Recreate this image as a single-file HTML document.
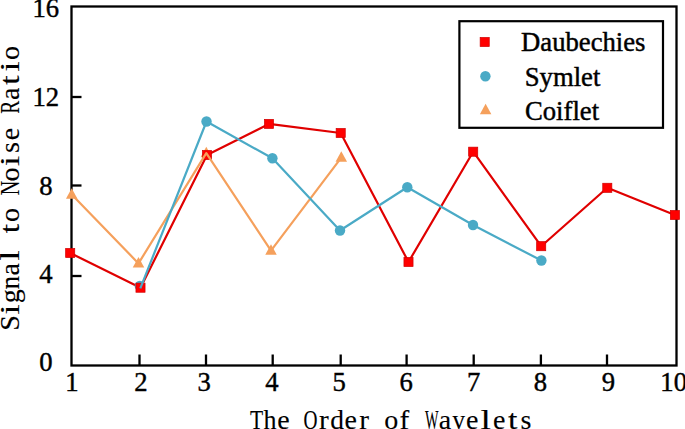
<!DOCTYPE html>
<html><head><meta charset="utf-8"><title>Chart</title>
<style>html,body{margin:0;padding:0;background:#fff;}body{width:685px;height:429px;overflow:hidden;position:relative;font-family:"Liberation Serif",serif;}</style>
</head><body>
<svg width="685" height="429" viewBox="0 0 685 429" style="position:absolute;left:0;top:0">
<rect width="685" height="429" fill="#fff"/>
<rect x="71.5" y="6.5" width="605.0" height="359.0" fill="none" stroke="#000" stroke-width="2.3"/>
<line x1="71.5" y1="276" x2="81.5" y2="276" stroke="#000" stroke-width="2.3"/>
<line x1="71.5" y1="185.5" x2="81.5" y2="185.5" stroke="#000" stroke-width="2.3"/>
<line x1="71.5" y1="97" x2="81.5" y2="97" stroke="#000" stroke-width="2.3"/>
<line x1="139.5" y1="365.5" x2="139.5" y2="354.5" stroke="#000" stroke-width="2.3"/>
<line x1="206" y1="365.5" x2="206" y2="354.5" stroke="#000" stroke-width="2.3"/>
<line x1="272.7" y1="365.5" x2="272.7" y2="354.5" stroke="#000" stroke-width="2.3"/>
<line x1="340.7" y1="365.5" x2="340.7" y2="354.5" stroke="#000" stroke-width="2.3"/>
<line x1="406.6" y1="365.5" x2="406.6" y2="354.5" stroke="#000" stroke-width="2.3"/>
<line x1="473.7" y1="365.5" x2="473.7" y2="354.5" stroke="#000" stroke-width="2.3"/>
<line x1="540.9" y1="365.5" x2="540.9" y2="354.5" stroke="#000" stroke-width="2.3"/>
<line x1="607" y1="365.5" x2="607" y2="354.5" stroke="#000" stroke-width="2.3"/>
<text x="45.8" y="17.4" font-family="Liberation Serif" font-size="26.67" stroke="#000" stroke-width="0.42" text-anchor="middle">16</text>
<text x="45.8" y="106.3" font-family="Liberation Serif" font-size="26.67" stroke="#000" stroke-width="0.42" text-anchor="middle">12</text>
<text x="45.8" y="194.8" font-family="Liberation Serif" font-size="26.67" stroke="#000" stroke-width="0.42" text-anchor="middle">8</text>
<text x="45.8" y="282.8" font-family="Liberation Serif" font-size="26.67" stroke="#000" stroke-width="0.42" text-anchor="middle">4</text>
<text x="45.8" y="371.2" font-family="Liberation Serif" font-size="26.67" stroke="#000" stroke-width="0.42" text-anchor="middle">0</text>
<text x="71.9" y="391.3" font-family="Liberation Serif" font-size="26.67" stroke="#000" stroke-width="0.42" text-anchor="middle">1</text>
<text x="141" y="391.3" font-family="Liberation Serif" font-size="26.67" stroke="#000" stroke-width="0.42" text-anchor="middle">2</text>
<text x="204.2" y="391.3" font-family="Liberation Serif" font-size="26.67" stroke="#000" stroke-width="0.42" text-anchor="middle">3</text>
<text x="272" y="391.3" font-family="Liberation Serif" font-size="26.67" stroke="#000" stroke-width="0.42" text-anchor="middle">4</text>
<text x="339.1" y="391.3" font-family="Liberation Serif" font-size="26.67" stroke="#000" stroke-width="0.42" text-anchor="middle">5</text>
<text x="406.2" y="391.3" font-family="Liberation Serif" font-size="26.67" stroke="#000" stroke-width="0.42" text-anchor="middle">6</text>
<text x="473.7" y="391.3" font-family="Liberation Serif" font-size="26.67" stroke="#000" stroke-width="0.42" text-anchor="middle">7</text>
<text x="540.5" y="391.3" font-family="Liberation Serif" font-size="26.67" stroke="#000" stroke-width="0.42" text-anchor="middle">8</text>
<text x="608.3" y="391.3" font-family="Liberation Serif" font-size="26.67" stroke="#000" stroke-width="0.42" text-anchor="middle">9</text>
<text x="660.3" y="391.3" font-family="Liberation Serif" font-size="26.67" stroke="#000" stroke-width="0.42">10</text>
<g font-family="Liberation Serif" font-size="28" stroke="#000" stroke-width="0.12">
<text transform="translate(249.95,429.0) scale(0.769,1)" x="0" y="0">T</text>
<text transform="translate(263.57,429.0) scale(0.928,1)" x="0" y="0">h</text>
<text x="277.22" y="429.0">e</text>
<text transform="translate(303.46,429.0) scale(0.692,1)" x="0" y="0">O</text>
<text transform="translate(318.91,429.0) scale(1.045,1)" x="0" y="0">r</text>
<text transform="translate(330.23,429.0) scale(0.981,1)" x="0" y="0">d</text>
<text x="344.62" y="429.0">e</text>
<text transform="translate(359.35,429.0) scale(1.045,1)" x="0" y="0">r</text>
<text x="384.34" y="429.0">o</text>
<text transform="translate(399.47,429.0) scale(1.051,1)" x="0" y="0">f</text>
<text transform="translate(425.03,429.0) scale(0.512,1)" x="0" y="0">W</text>
<text x="438.75" y="429.0">a</text>
<text transform="translate(452.54,429.0) scale(0.886,1)" x="0" y="0">v</text>
<text x="465.94" y="429.0">e</text>
<text transform="translate(480.50,429.0) scale(1.336,1)" x="0" y="0">l</text>
<text x="492.90" y="429.0">e</text>
<text transform="translate(507.88,429.0) scale(1.212,1)" x="0" y="0">t</text>
<text x="520.62" y="429.0">s</text>
</g>
<g font-family="Liberation Serif" font-size="28" stroke="#000" stroke-width="0.12" transform="translate(18.8,329.7) rotate(-90)">
<text x="-1.10" y="0">S</text>
<text transform="translate(15.01,0) scale(1.338,1)" x="0" y="0">i</text>
<text x="26.42" y="0">g</text>
<text transform="translate(40.42,0) scale(0.960,1)" x="0" y="0">n</text>
<text x="54.24" y="0">a</text>
<text transform="translate(69.04,0) scale(1.338,1)" x="0" y="0">l</text>
<text transform="translate(96.46,0) scale(1.214,1)" x="0" y="0">t</text>
<text x="107.75" y="0">o</text>
<text transform="translate(134.42,0) scale(0.719,1)" x="0" y="0">N</text>
<text x="148.25" y="0">o</text>
<text transform="translate(163.51,0) scale(1.338,1)" x="0" y="0">i</text>
<text x="176.73" y="0">s</text>
<text x="189.47" y="0">e</text>
<text transform="translate(215.98,0) scale(0.697,1)" x="0" y="0">R</text>
<text x="229.74" y="0">a</text>
<text transform="translate(244.96,0) scale(1.214,1)" x="0" y="0">t</text>
<text transform="translate(258.01,0) scale(1.338,1)" x="0" y="0">i</text>
<text x="269.75" y="0">o</text>
</g>
<polyline points="70.2,253 140.5,287.7 207,155 269,123.9 340.7,133 408.5,262 473.2,151.7 541.2,246.2 607.3,187.8 674.9,215" fill="none" stroke="#e00000" stroke-width="2.2" stroke-linejoin="round"/>
<polygon points="65.95,198.65 77.45,198.65 71.70,188.15" fill="#f5a05c"/>
<polygon points="132.75,267.45 144.25,267.45 138.50,256.95" fill="#f5a05c"/>
<polygon points="200.55,157.25 212.05,157.25 206.30,146.75" fill="#f5a05c"/>
<polygon points="265.25,254.65 276.75,254.65 271.00,244.15" fill="#f5a05c"/>
<polygon points="335.55,161.65 347.05,161.65 341.30,151.15" fill="#f5a05c"/>
<circle cx="139.8" cy="285.9" r="5.2" fill="#4aaac6"/>
<circle cx="206.5" cy="121.5" r="5.2" fill="#4aaac6"/>
<circle cx="272.4" cy="158.3" r="5.2" fill="#4aaac6"/>
<circle cx="340" cy="230.5" r="5.2" fill="#4aaac6"/>
<circle cx="407.3" cy="187.2" r="5.2" fill="#4aaac6"/>
<circle cx="473" cy="225" r="5.2" fill="#4aaac6"/>
<circle cx="541.4" cy="260.5" r="5.2" fill="#4aaac6"/>
<rect x="65.65" y="248.45" width="9.10" height="9.10" fill="#ff0000" stroke="#d00000" stroke-width="0.7"/>
<rect x="135.95" y="283.15" width="9.10" height="9.10" fill="#ff0000" stroke="#d00000" stroke-width="0.7"/>
<rect x="202.45" y="150.45" width="9.10" height="9.10" fill="#ff0000" stroke="#d00000" stroke-width="0.7"/>
<rect x="264.45" y="119.35" width="9.10" height="9.10" fill="#ff0000" stroke="#d00000" stroke-width="0.7"/>
<rect x="336.15" y="128.45" width="9.10" height="9.10" fill="#ff0000" stroke="#d00000" stroke-width="0.7"/>
<rect x="403.95" y="257.45" width="9.10" height="9.10" fill="#ff0000" stroke="#d00000" stroke-width="0.7"/>
<rect x="468.65" y="147.15" width="9.10" height="9.10" fill="#ff0000" stroke="#d00000" stroke-width="0.7"/>
<rect x="536.65" y="241.65" width="9.10" height="9.10" fill="#ff0000" stroke="#d00000" stroke-width="0.7"/>
<rect x="602.75" y="183.25" width="9.10" height="9.10" fill="#ff0000" stroke="#d00000" stroke-width="0.7"/>
<rect x="670.35" y="210.45" width="9.10" height="9.10" fill="#ff0000" stroke="#d00000" stroke-width="0.7"/>
<polyline points="71.7,194.6 138.5,263.4 206.3,153.2 271,250.6 341.3,157.6" fill="none" stroke="#f5a05c" stroke-width="2.2" stroke-linejoin="round"/>
<polyline points="140.3,288.3 206.5,121.5 272.4,158.3 340,230.5 407.3,187.2 473,225 541.4,260.5" fill="none" stroke="#4aaac6" stroke-width="2.2" stroke-linejoin="round"/>
<rect x="459.4" y="21.2" width="203.6" height="106.6" fill="#fff" stroke="#000" stroke-width="2.2"/>
<rect x="480.15" y="37.45" width="9.10" height="9.10" fill="#ff0000" stroke="#d00000" stroke-width="0.7"/>
<circle cx="485.4" cy="76.3" r="5.2" fill="#4aaac6"/>
<polygon points="479.85,114.25 491.35,114.25 485.60,103.75" fill="#f5a05c"/>
<text x="521.1" y="51.4" font-family="Liberation Serif" font-size="26.67" stroke="#000" stroke-width="0.45">Daubechies</text>
<text x="524.8" y="85.5" font-family="Liberation Serif" font-size="26.67" stroke="#000" stroke-width="0.45">Symlet</text>
<text x="525" y="120.3" font-family="Liberation Serif" font-size="26.67" stroke="#000" stroke-width="0.45">Coiflet</text>
</svg>
</body></html>
